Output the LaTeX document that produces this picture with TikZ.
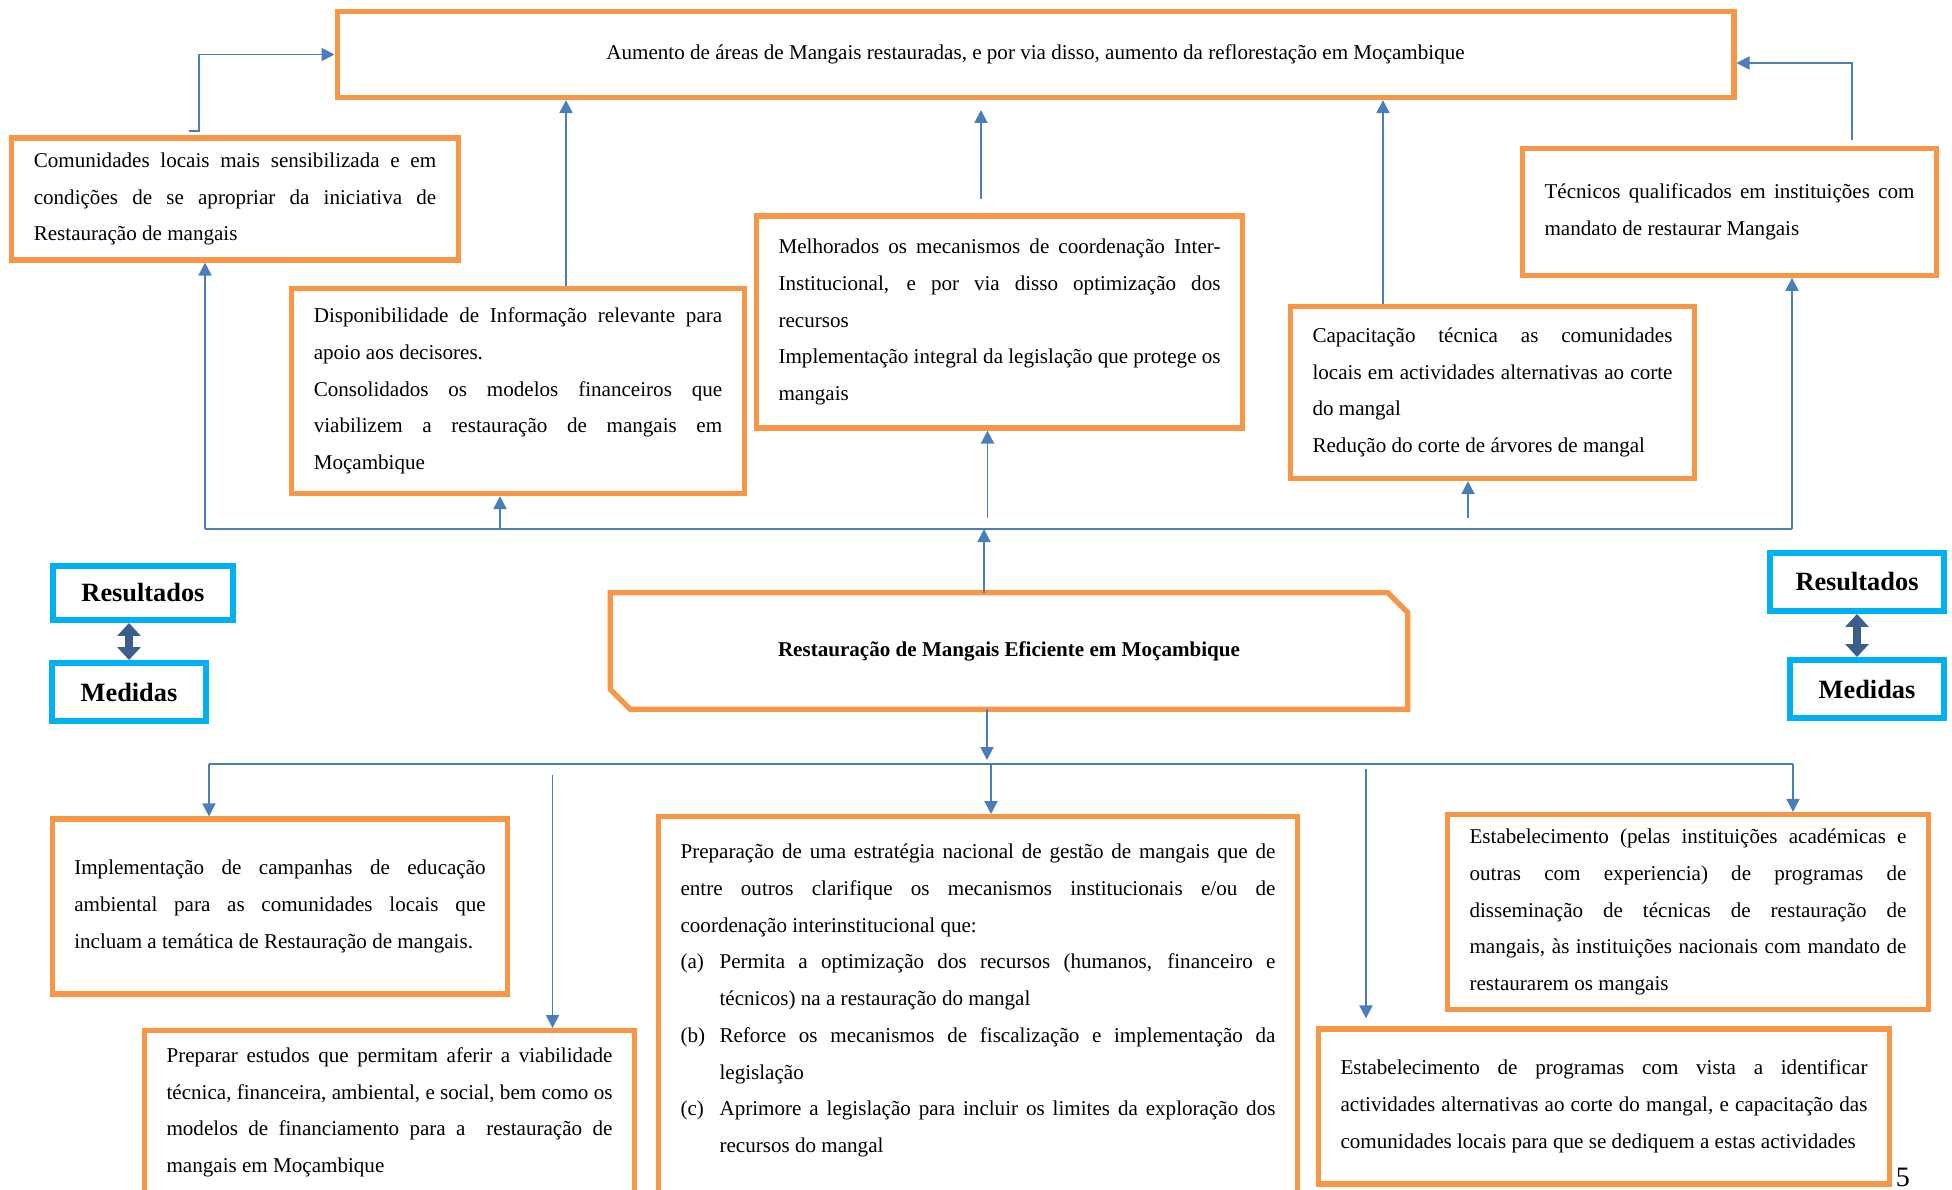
\documentclass[tikz,border=0pt]{standalone}
\usepackage{fontspec}
\setmainfont{Liberation Serif}
\usepackage{tikz}
\usetikzlibrary{arrows.meta, calc}
\definecolor{boxorange}{HTML}{F79646}
\definecolor{linkblue}{HTML}{4A7EBB}
\definecolor{keycyan}{HTML}{00B0F0}
\definecolor{keynavy}{HTML}{3B5E8C}
\setlength{\parindent}{0pt}
\setlength{\parskip}{0pt}
\newcommand{\listitem}[2]{\par\hangindent=0.78cm\hangafter=1\makebox[0.78cm][l]{#1}#2}

\begin{document}
\begin{tikzpicture}[x=0.02cm, y=-0.02cm, >={Triangle[length=0.26cm, width=0.26cm]},
  outbox/.style={draw=boxorange, line width=3pt, fill=white, align=justify,
    inner xsep=0.44cm, inner ysep=0pt, font=\fontsize{12}{20.9}\selectfont},
  keybox/.style={draw=keycyan, line width=3.4pt, inner sep=0pt,
    font=\fontsize{15}{18}\selectfont\bfseries},
  link/.style={linkblue, line width=1.1pt},
  dbl/.style={keynavy, line width=0.15cm,
    {Triangle[length=0.26cm, width=0.46cm]}-{Triangle[length=0.26cm, width=0.46cm]}}]
  \path[fill=white, use as bounding box] (0,0) rectangle (1952,1190);
  \clip (0,0) rectangle (1952,1190);

  % resultados
  \node[outbox, align=center, minimum width=27.94cm, minimum height=1.72cm] (goal) at (1035.5,54.5)
        {Aumento de áreas de Mangais restauradas, e por via disso, aumento da reflorestação em Moçambique};
  \node[outbox, text width=8.05cm, minimum height=2.44cm] (comm) at (235,199)
        {Comunidades locais mais sensibilizada e em\linebreak condições de se apropriar da iniciativa de\linebreak Restauração de mangais};
  \node[outbox, text width=8.17cm, minimum height=4.1cm] (info) at (518,391)
        {Disponibilidade de Informação relevante para\linebreak apoio aos decisores.\par
         Consolidados os modelos financeiros que\linebreak viabilizem a restauração de mangais em\linebreak Moçambique};
  \node[outbox, text width=8.84cm, minimum height=4.24cm] (coord) at (999.5,322)
        {Melhorados os mecanismos de coordenação Inter-\linebreak Institucional, e por via disso optimização dos\linebreak recursos\par
         Implementação integral da legislação que protege os\linebreak mangais};
  \node[outbox, text width=7.4cm, minimum height=2.53cm] (staff) at (1729.5,212)
        {Técnicos qualificados em instituições com\linebreak mandato de restaurar Mangais};
  \node[outbox, text width=7.2cm, minimum height=3.44cm] (skills) at (1492.5,392.5)
        {Capacitação técnica as comunidades\linebreak locais em actividades alternativas ao corte\linebreak do mangal\par
         Redução do corte de árvores de mangal};

  % objectivo central
  \node[minimum width=15.94cm, minimum height=2.32cm, font=\fontsize{12}{20.9}\selectfont\bfseries] (core) at (1009,651)
        {Restauração de Mangais Eficiente em Moçambique};
  \draw[boxorange, line width=3pt] (core.north west) -- ([xshift=-0.4cm]core.north east)
        -- ([yshift=-0.4cm]core.north east) -- (core.south east)
        -- ([xshift=0.4cm]core.south west) -- ([yshift=0.4cm]core.south west) -- cycle;

  \node[keybox, minimum width=3.6cm, minimum height=1.08cm] (resL) at (143,593) {Resultados};
  \node[keybox, minimum width=3.08cm, minimum height=1.16cm] (medL) at (129,692) {Medidas};
  \node[keybox, minimum width=3.48cm, minimum height=1.16cm] (resR) at (1857,582) {Resultados};
  \node[keybox, minimum width=3.08cm, minimum height=1.16cm] (medR) at (1867,689) {Medidas};
  \draw[dbl] (resL.south -| medL.north) -- (medL.north);
  \draw[dbl] (resR.south) -- (resR.south |- medR.north);

  % medidas
  \node[outbox, text width=8.23cm, minimum height=3.5cm] (campaign) at (280,906.5)
        {Implementação de campanhas de educação\linebreak ambiental para as comunidades locais que\linebreak incluam a temática de Restauração de mangais.};
  \node[outbox, text width=8.92cm, anchor=north, inner ysep=0.34cm] (studies) at (389.5,1028)
        {Preparar estudos que permitam aferir a viabilidade\linebreak técnica, financeira, ambiental, e social, bem como os\linebreak modelos de financiamento para a\ \ restauração de\linebreak mangais em Moçambique\rule[-1.2cm]{0pt}{0pt}\par};
  \node[outbox, text width=11.9cm, anchor=north, inner ysep=0.55cm] (strategy) at (978,814)
        {Preparação de uma estratégia nacional de gestão de mangais que de\linebreak entre outros clarifique os mecanismos institucionais e/ou de\linebreak coordenação interinstitucional que:
         \listitem{(a)}{Permita a optimização dos recursos (humanos, financeiro e\linebreak técnicos) na a restauração do mangal}
         \listitem{(b)}{Reforce os mecanismos de fiscalização e implementação da\linebreak legislação}
         \listitem{(c)}{Aprimore a legislação para incluir os limites da exploração dos\linebreak recursos do mangal\rule[-1.2cm]{0pt}{0pt}}\par};
  \node[outbox, text width=8.74cm, minimum height=3.9cm] (training) at (1688,912)
        {Estabelecimento (pelas instituições académicas e\linebreak outras com experiencia) de programas de\linebreak disseminação de técnicas de restauração de\linebreak mangais, às instituições nacionais com mandato de\linebreak restaurarem os mangais};
  \node[outbox, text width=10.54cm, minimum height=3.1cm] (alt) at (1604,1106.5)
        {Estabelecimento de programas com vista a identificar\linebreak actividades alternativas ao corte do mangal, e capacitação das\linebreak comunidades locais para que se dediquem a estas actividades};
  \node[anchor=south, inner sep=0pt, font=\fontsize{16}{20}\selectfont] (page) at (1903,1187) {5};

  % ligacoes de cima
  \coordinate (ub1) at (205,529);
  \coordinate (ub2) at (1792,529);
  \draw[link] (ub1) -- (ub2);
  \draw[link, ->] (ub1) -- (ub1 |- comm.south);
  \draw[link, ->] (ub2) -- (ub2 |- staff.south);
  \coordinate (u3) at (500,529);
  \draw[link, ->] (u3) -- (u3 |- info.south);
  \coordinate (m1) at (987.5,518);
  \draw[link, ->] (m1) -- (m1 |- coord.south);
  \coordinate (m2) at (1468,518);
  \draw[link, ->] (m2) -- (m2 |- skills.south);
  \coordinate (c1) at (984,529);
  \draw[link, ->] (core.north -| c1) -- (c1);
  \coordinate (i1) at (566,0);
  \draw[link, ->] (info.north -| i1) -- (goal.south -| i1);
  \coordinate (s1) at (1383,0);
  \draw[link, ->] (skills.north -| s1) -- (goal.south -| s1);
  \coordinate (f1a) at (981,199);
  \coordinate (f1b) at (981,110);
  \draw[link, ->] (f1a) -- (f1b);
  \coordinate (k1) at (199,131);
  \draw[link, ->] ($(k1)+(-10,0)$) -- (k1) |- (goal.west);
  \coordinate (t1) at (1852,139.5);
  \coordinate (t2) at (0,63);
  \draw[link, ->] (t1) |- (goal.east |- t2);

  % ligacoes de baixo
  \coordinate (c2) at (987,764);
  \draw[link, ->] (core.south -| c2) -- ($(c2)+(0,-4)$);
  \coordinate (lb1) at (209,764);
  \coordinate (lb2) at (1793,764);
  \draw[link] (lb1) -- (lb2);
  \draw[link, ->] (lb1) -- (lb1 |- campaign.north);
  \draw[link, ->] (lb2) -- (lb2 |- training.north);
  \coordinate (l3) at (991,764);
  \draw[link, ->] (l3) -- (l3 |- strategy.north);
  \coordinate (f2) at (552.5,775);
  \draw[link, ->] (f2) -- (f2 |- studies.north);
  \coordinate (f3) at (1366,769);
  \draw[link, ->, shorten >=0.16cm] (f3) -- (f3 |- alt.north);
\end{tikzpicture}
\end{document}
